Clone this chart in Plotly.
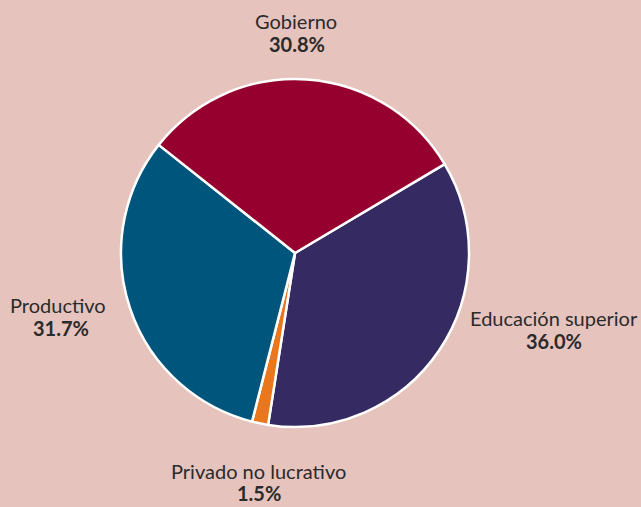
import plotly.graph_objects as go

categories = ["Educación superior", "Privado no lucrativo", "Productivo", "Gobierno"]
values = [36.0, 1.5, 31.7, 30.8]
colors = ["#352B62", "#E8771E", "#00557D", "#96002E"]

W, H = 641, 507
# label placement in pixels: (x of name, y of name, x of pct, y of pct)
label_pos = [
    (553.5, 318, 554, 341),
    (258.5, 471, 259, 493),
    (57.5, 305, 61, 328),
    (296, 21, 297, 44),
]

fig = go.Figure(go.Pie(
    labels=categories,
    values=values,
    sort=False,
    direction="clockwise",
    rotation=59.3,
    textinfo="none",
    hoverinfo="label+percent",
    marker=dict(colors=colors, line=dict(color="white", width=2.5)),
    domain=dict(x=[0.1888, 0.7317], y=[0.1578, 0.8442]),
    showlegend=False,
))

annotations = []
for cat, val, (nx, ny, px, py) in zip(categories, values, label_pos):
    annotations.append(dict(
        text=cat, x=nx / W, y=1 - ny / H, xref="paper", yref="paper",
        xanchor="center", yanchor="middle", showarrow=False,
        font=dict(family="Lato", size=20, color="#2b2b2b"),
    ))
    annotations.append(dict(
        text=f"<b>{val:.1f}%</b>", x=px / W, y=1 - py / H, xref="paper", yref="paper",
        xanchor="center", yanchor="middle", showarrow=False,
        font=dict(family="Lato", size=20, color="#2b2b2b"),
    ))

fig.update_layout(
    width=W, height=H,
    margin=dict(l=0, r=0, t=0, b=0),
    paper_bgcolor="#E6C3BD",
    plot_bgcolor="#E6C3BD",
    annotations=annotations,
)

fig.write_html(
    "out.html",
    config={"displayModeBar": False},
    post_script="document.body.style.margin='0';document.body.style.overflow='hidden';document.body.style.background='#E6C3BD';",
)
